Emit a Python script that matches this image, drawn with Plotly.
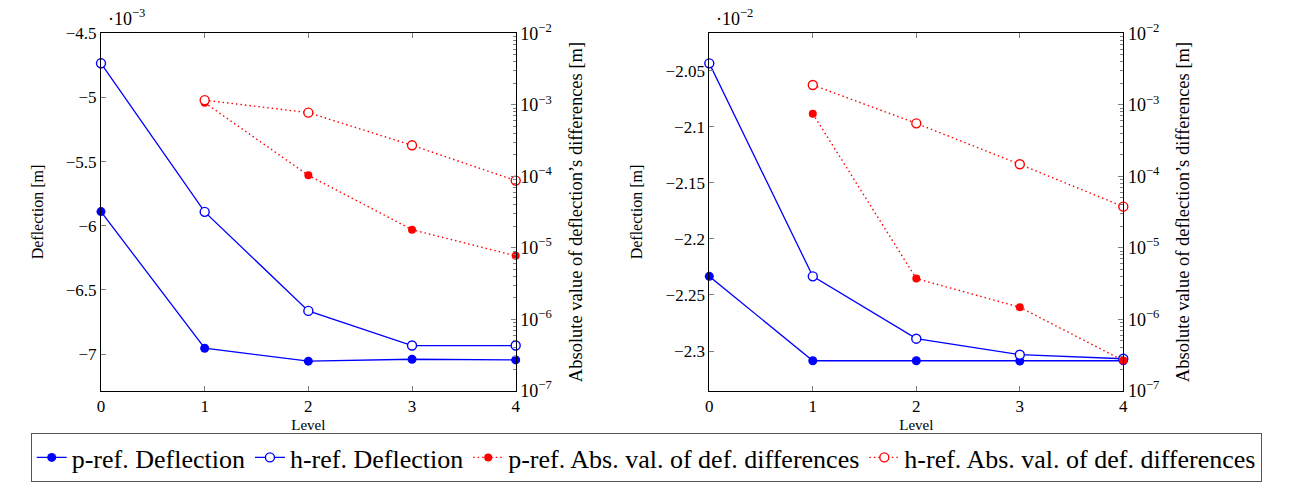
import plotly.graph_objects as go

levels = [0, 1, 2, 3, 4]
diff_levels = [1, 2, 3, 4]

# Left chart (deflection in units of 1e-3 m)
left_p_defl = [-5.890, -6.955, -7.056, -7.041, -7.046]
left_h_defl = [-4.734, -5.892, -6.664, -6.934, -6.934]
left_p_diff = [1.07e-3, 1.03e-4, 1.79e-5, 7.7e-6]
left_h_diff = [1.16e-3, 7.76e-4, 2.71e-4, 8.7e-5]

# Right chart (deflection in units of 1e-2 m)
right_p_defl = [-2.2334, -2.3087, -2.3087, -2.3090, -2.3087]
right_h_defl = [-2.0434, -2.2334, -2.2890, -2.3033, -2.3069]
right_p_diff = [7.5e-4, 3.7e-6, 1.47e-6, 2.64e-7]
right_h_diff = [1.89e-3, 5.5e-4, 1.47e-4, 3.76e-5]

left_ticks = [-7, -6.5, -6, -5.5, -5, -4.5]
left_ticktext = ["\u22127", "\u22126.5", "\u22126", "\u22125.5", "\u22125", "\u22124.5"]
right_ticks = [-2.3, -2.25, -2.2, -2.15, -2.1, -2.05]
right_ticktext = ["\u22122.3", "\u22122.25", "\u22122.2", "\u22122.15", "\u22122.1", "\u22122.05"]
log_ticks = [1e-7, 1e-6, 1e-5, 1e-4, 1e-3, 1e-2]
log_ticktext = ["10<sup>\u22127</sup>", "10<sup>\u22126</sup>", "10<sup>\u22125</sup>",
                "10<sup>\u22124</sup>", "10<sup>\u22123</sup>", "10<sup>\u22122</sup>"]
minor_log = [m * 10.0 ** e for e in range(-7, -2) for m in range(2, 10)]

FONT = "Liberation Serif"
BLUE = "#0000ff"
RED = "#ff0000"
TICKC = "#7f7f7f"
DOTTED = "1.5px,3px"
W, H = 1295, 496

fig = go.Figure()


def add_panel(p_defl, h_defl, p_diff, h_diff, xa, ya, ya2, show):
    fig.add_trace(go.Scatter(x=levels, y=p_defl, mode="lines+markers", name="p-ref. Deflection",
                             line=dict(color=BLUE, width=1.3),
                             marker=dict(symbol="circle", size=9, color=BLUE),
                             xaxis=xa, yaxis=ya, showlegend=show, cliponaxis=False))
    fig.add_trace(go.Scatter(x=levels, y=h_defl, mode="lines+markers", name="h-ref. Deflection",
                             line=dict(color=BLUE, width=1.3),
                             marker=dict(symbol="circle", size=9, color="white",
                                         line=dict(color=BLUE, width=1.4)),
                             xaxis=xa, yaxis=ya, showlegend=show, cliponaxis=False))
    fig.add_trace(go.Scatter(x=diff_levels, y=p_diff, mode="lines+markers",
                             name="p-ref. Abs. val. of def. differences",
                             line=dict(color=RED, width=1.4, dash=DOTTED),
                             marker=dict(symbol="circle", size=8, color=RED),
                             xaxis=xa, yaxis=ya2, showlegend=show, cliponaxis=False))
    fig.add_trace(go.Scatter(x=diff_levels, y=h_diff, mode="lines+markers",
                             name="h-ref. Abs. val. of def. differences",
                             line=dict(color=RED, width=1.4, dash=DOTTED),
                             marker=dict(symbol="circle", size=9, color="white",
                                         line=dict(color=RED, width=1.4)),
                             xaxis=xa, yaxis=ya2, showlegend=show, cliponaxis=False))


add_panel(left_p_defl, left_h_defl, left_p_diff, left_h_diff, "x", "y", "y2", True)
add_panel(right_p_defl, right_h_defl, right_p_diff, right_h_diff, "x2", "y3", "y4", False)

ydom = [1 - 390.7 / H, 1 - 33.3 / H]
xdom1 = [101.0 / W, 515.7 / W]
xdom2 = [709.3 / W, 1123.3 / W]

tickfont = dict(family=FONT, size=17, color="black")

xcommon = dict(range=[0, 4], tickvals=levels, ticktext=[str(v) for v in levels],
               ticks="inside", ticklen=5, tickcolor=TICKC, tickwidth=1,
               showline=True, linecolor="black", linewidth=1, mirror="ticks",
               showgrid=False, zeroline=False, tickfont=tickfont,
               title=dict(text="Level", font=dict(family=FONT, size=15, color="black"), standoff=4),
               automargin=False)

ycommon = dict(ticks="inside", ticklen=5, tickcolor=TICKC, tickwidth=1,
               showline=True, linecolor="black", linewidth=1, showgrid=False,
               zeroline=False, tickfont=tickfont, automargin=False)

y2common = dict(type="log", range=[-7, -2], side="right", tickvals=log_ticks,
                ticktext=log_ticktext, ticks="inside", ticklen=5, tickcolor=TICKC,
                tickwidth=1, showline=True, linecolor="black", linewidth=1,
                showgrid=False, zeroline=False, tickfont=dict(family=FONT, size=18, color="black"),
                minor=dict(tickvals=minor_log, ticks="inside", ticklen=3, tickcolor=TICKC,
                           showgrid=False),
                title=dict(text="Absolute value of deflection\u2019s differences [m]",
                           font=dict(family=FONT, size=18.5, color="black"), standoff=17),
                automargin=False)

ytitle = dict(text="Deflection [m]", font=dict(family=FONT, size=16, color="black"), standoff=18)

fig.update_layout(
    width=W, height=H,
    margin=dict(l=0, r=0, t=0, b=0),
    paper_bgcolor="white", plot_bgcolor="white",
    font=dict(family=FONT, color="black"),
    xaxis=dict(domain=xdom1, anchor="y", **xcommon),
    xaxis2=dict(domain=xdom2, anchor="y3", **xcommon),
    yaxis=dict(domain=ydom, anchor="x", range=[-7.286, -4.5], tickvals=left_ticks,
               ticktext=left_ticktext, title=ytitle, **ycommon),
    yaxis2=dict(overlaying="y", anchor="x", **y2common),
    yaxis3=dict(domain=ydom, anchor="x2", range=[-2.3354, -2.0166], tickvals=right_ticks,
                ticktext=right_ticktext, title=ytitle, **ycommon),
    yaxis4=dict(overlaying="y3", anchor="x2", **y2common),
    legend=dict(orientation="h", x=0.499, xanchor="center", y=1 - 433.0 / H, yanchor="top",
                bordercolor="#555555", borderwidth=1, font=dict(family=FONT, size=26, color="black"),
                itemwidth=30, tracegroupgap=0, bgcolor="white"),
    showlegend=True,
)

fig.add_annotation(text="\u00b710<sup>\u22123</sup>", xref="paper", yref="paper",
                   x=106.0 / W, y=1 - 17.0 / H, xanchor="left", yanchor="middle",
                   showarrow=False, font=dict(family=FONT, size=18, color="black"))
fig.add_annotation(text="\u00b710<sup>\u22122</sup>", xref="paper", yref="paper",
                   x=714.0 / W, y=1 - 17.0 / H, xanchor="left", yanchor="middle",
                   showarrow=False, font=dict(family=FONT, size=18, color="black"))

fig.write_html("out.html", config={"displayModeBar": False},
               post_script="document.body.style.margin='0';document.body.style.padding='0';")
